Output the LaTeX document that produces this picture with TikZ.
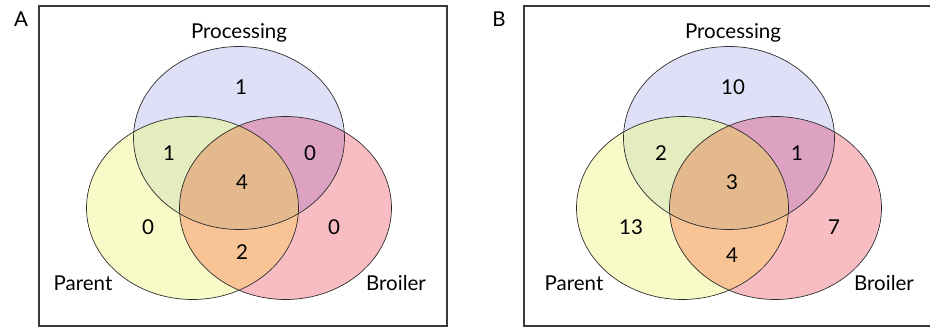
\documentclass[tikz,border=0pt]{standalone}
\usepackage{fontspec}
\setmainfont{Lato}
\definecolor{cProc}{HTML}{DFE0F7}
\definecolor{cPar}{HTML}{F8FAC8}
\definecolor{cBro}{HTML}{F8BDC2}
\definecolor{cParProc}{HTML}{E3EDBF}
\definecolor{cProcBro}{HTML}{DDA2C1}
\definecolor{cParBro}{HTML}{F8C495}
\definecolor{cAll}{HTML}{E4B98D}
\definecolor{cLine}{HTML}{3A3A3A}
\newcommand\procE{(0,138) ellipse [x radius=105.5, y radius=91.5]}
\newcommand\parE{(-46.5,208) ellipse [x radius=106, y radius=91.5]}
\newcommand\broE{(46.5,208) ellipse [x radius=106, y radius=91.5]}
\newcommand\myvenn{%
  \fill[cPar] \parE; \fill[cBro] \broE; \fill[cProc] \procE;
  \begin{scope}\clip \parE; \fill[cParProc] \procE; \fill[cParBro] \broE;\end{scope}
  \begin{scope}\clip \broE; \fill[cProcBro] \procE;\end{scope}
  \begin{scope}\clip \parE; \clip \broE; \fill[cAll] \procE;\end{scope}
  \draw[vline] \procE; \draw[vline] \parE; \draw[vline] \broE;}
\begin{document}
\begin{tikzpicture}[x=1pt,y=-1pt,
  vline/.style={draw=cLine!80!black,line width=0.7pt},
  panelbox/.style={draw=cLine,line width=1.2pt},
  lbl/.style={font=\fontsize{20.5}{24}\selectfont,text=black,inner sep=0pt,anchor=center},
  num/.style={font=\fontsize{20.5}{24}\selectfont,text=black,inner sep=0pt,anchor=center}]
\useasboundingbox (0,0) rectangle (930,329);
\begin{scope}
\clip (0,0) rectangle (930,329);
% Panel A
\draw[panelbox] (39,6) rectangle (447,326);
\begin{scope}[shift={(239,0)}]\myvenn\end{scope}
\node[lbl] (tA) at (21,19) {A};
\node[lbl] (procA) at (239,33) {Processing};
\node[lbl] (parA) at (83,283) {Parent};
\node[lbl] (broA) at (396,283) {Broiler};
\node[num] (a1) at (241,87) {1};
\node[num] (a2) at (169,153) {1};
\node[num] (a3) at (310,153) {0};
\node[num] (a4) at (242,182) {4};
\node[num] (a5) at (148,227) {0};
\node[num] (a6) at (334,227) {0};
\node[num] (a7) at (242,252) {2};
% Panel B
\draw[panelbox] (524,6) rectangle (940,326);
\begin{scope}[shift={(729,0)}]\myvenn\end{scope}
\node[lbl] (tB) at (499,19) {B};
\node[lbl] (procB) at (733,33) {Processing};
\node[lbl] (parB) at (574,283) {Parent};
\node[lbl] (broB) at (884,283) {Broiler};
\node[num] (b1) at (733,87) {10};
\node[num] (b2) at (661,153) {2};
\node[num] (b3) at (797,153) {1};
\node[num] (b4) at (732,182) {3};
\node[num] (b5) at (631,227) {13};
\node[num] (b6) at (834,227) {7};
\node[num] (b7) at (732,255) {4};
\end{scope}
\end{tikzpicture}
\end{document}
